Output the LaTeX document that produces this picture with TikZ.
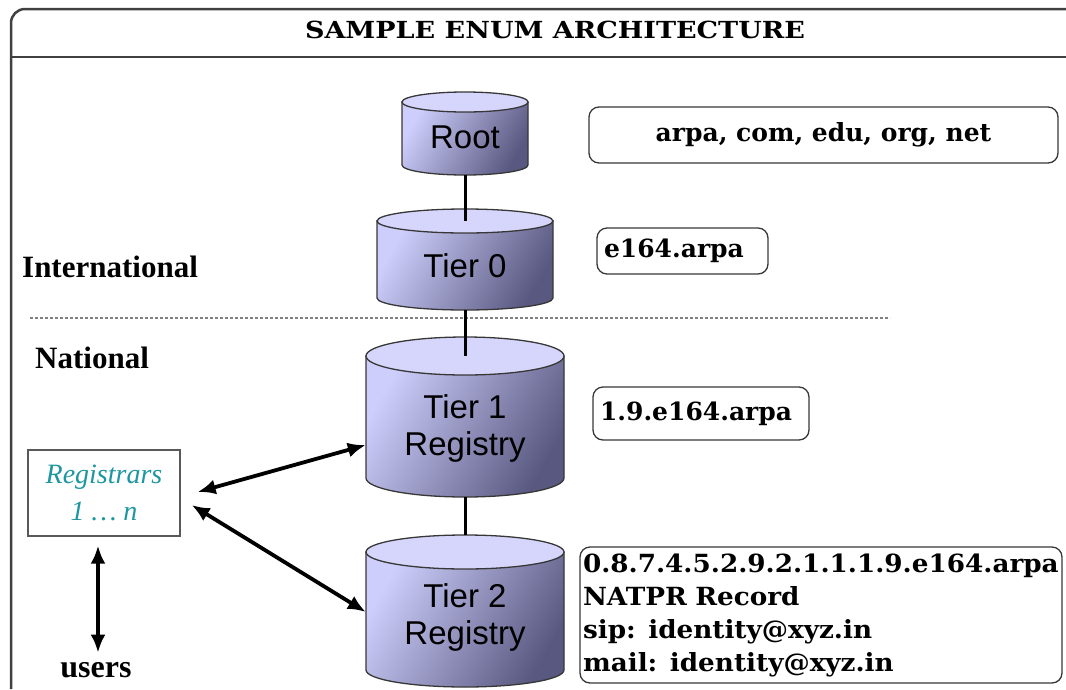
\documentclass[tikz,border=0pt]{standalone}
\usepackage{fontspec}
\setmainfont{Liberation Serif}
\newfontfamily\bkm{DejaVu Serif}
\newfontfamily\bkmrec{DejaVu Serif}[FakeStretch=1.05]
\newfontfamily\bkmwide{DejaVu Serif}[FakeStretch=1.15]
\newfontfamily\arialf{Liberation Sans}
\usetikzlibrary{arrows.meta,calc}
\definecolor{cylL}{RGB}{206,206,252}
\definecolor{cylD}{RGB}{88,88,128}
\definecolor{cylT}{RGB}{214,214,252}
\definecolor{tealtx}{RGB}{28,150,160}
\definecolor{edgec}{RGB}{55,55,55}
\newcommand\drawcyl[5]{% cx, top-center y, bottom-center y, rx, ry
  \shade[draw=edgec, line width=1.3, left color=cylL, right color=cylD, shading angle=60]
    (#1-#4,#2) -- (#1-#4,#3) arc[start angle=180, end angle=0, x radius=#4, y radius=#5]
    -- (#1+#4,#2) -- cycle;
  \draw[edgec, line width=1.3, fill=cylT] (#1,#2) ellipse[x radius=#4, y radius=#5];
}
\tikzset{
  cylnode/.style={inner sep=0, font=\arialf\fontsize{33}{37}\selectfont, align=center},
  labelbox/.style={draw=edgec, line width=1.3, rounded corners=10, inner xsep=7, inner ysep=0,
    font=\bkm\bfseries\fontsize{25}{33}\selectfont, align=left},
  sidelabel/.style={inner sep=0, anchor=base west, font=\bfseries\fontsize{31}{36}\selectfont},
  link/.style={line width=3},
  dblarrow/.style={line width=3.8, {Latex[length=18pt,width=15pt]}-{Latex[length=18pt,width=15pt]}},
  frame/.style={line width=2.5, draw=black!75}
}
\begin{document}
\begin{tikzpicture}[x=1pt, y=-1pt]
\useasboundingbox (0,0) rectangle (1066,689);
% frame
\draw[frame, rounded corners=14] (11,689) -- (11,9) -- (1066,9);
\draw[frame] (11,57) -- (1066,57);
\node[inner sep=0, font=\bkmwide\bfseries\fontsize{23.5}{26}\selectfont, anchor=base] (title) at (555,38) {SAMPLE ENUM ARCHITECTURE};
% divider
\draw[gray, line width=1.2, dash pattern=on 3pt off 2pt] (30,318) -- (890,318);
% cylinders
\drawcyl{465}{102}{165}{63}{10}
\drawcyl{465}{221}{298}{88}{12}
\drawcyl{465}{356}{478}{99}{19}
\drawcyl{465}{552}{670}{99}{17}
\node[cylnode, minimum width=126, minimum height=83] (root) at (465,133.5) {\raisebox{0pt}[29pt][0pt]{Root}};
\node[cylnode, minimum width=176, minimum height=101] (tier0) at (465,259.5) {\raisebox{0pt}[35pt][0pt]{Tier 0}};
\node[cylnode, minimum width=198, minimum height=160] (tier1) at (465,417) {\raisebox{0pt}[30pt][28pt]{\begin{tabular}[t]{@{}c@{}}Tier 1\\Registry\end{tabular}}};
\node[cylnode, minimum width=198, minimum height=152] (tier2) at (465,611) {\raisebox{0pt}[24pt][32pt]{\begin{tabular}[t]{@{}c@{}}Tier 2\\Registry\end{tabular}}};
% vertical links
\draw[link] (root.south) -- ($(tier0.north)+(0,12)$);
\draw[link] (tier0.south) -- ($(tier1.north)+(0,19)$);
\draw[link] (tier1.south) -- (tier2.north);
% label boxes
\node[labelbox, align=center, minimum width=469, minimum height=56] (tld) at (823.5,135) {arpa, com, edu, org, net};
\node[labelbox, text width=157, minimum height=46] (e164) at (682.5,251) {e164.arpa};
\node[labelbox, text width=202, minimum height=53] (natl) at (701,413.5) {1.9.e164.arpa};
\node[labelbox, font=\bkmrec\bfseries\fontsize{25}{33}\selectfont, inner xsep=3, text width=476, minimum height=136] (rec) at (821,615) {0.8.7.4.5.2.9.2.1.1.1.9.e164.arpa\\NATPR Record\\sip: identity@xyz.in\\mail: identity@xyz.in};
% side labels
\node[sidelabel] (intl) at (22,277) {International};
\node[sidelabel] (natn) at (35,368) {National};
% registrars
\node[draw=black!65, line width=1.3, minimum width=152, minimum height=86, inner sep=0, align=center,
  text=tealtx, font=\itshape\fontsize{28}{37}\selectfont] (reg) at (104,493) {Registrars\\1 … n};
\node[inner sep=0, anchor=base, font=\bfseries\fontsize{32}{36}\selectfont] (users) at (96,677) {users};
% arrows
\draw[dblarrow] ($(reg.east)+(17,-1)$) -- ($(tier1.west)+(0,28)$);
\draw[dblarrow] ($(reg.east)+(11,12)$) -- ($(tier2.west)+(0,1)$);
\draw[dblarrow] ($(reg.south)+(-6,9)$) -- ($(users.north)+(2,-9)$);
\end{tikzpicture}
\end{document}
